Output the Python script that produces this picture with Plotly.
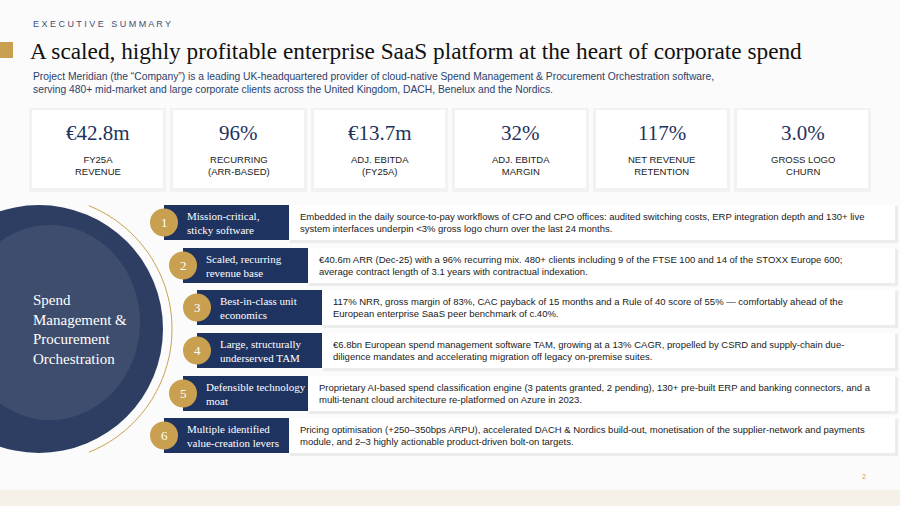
import math
import plotly.graph_objects as go

# KPI cards
kpi_values = ["€42.8m", "96%", "€13.7m", "32%", "117%", "3.0%"]
kpi_labels = ["FY25A<br>REVENUE", "RECURRING<br>(ARR-BASED)", "ADJ. EBITDA<br>(FY25A)",
              "ADJ. EBITDA<br>MARGIN", "NET REVENUE<br>RETENTION", "GROSS LOGO<br>CHURN"]

# investment pillars
pillar_nums = ["1", "2", "3", "4", "5", "6"]
pillar_titles = ["Mission-critical,<br>sticky software", "Scaled, recurring<br>revenue base",
                 "Best-in-class unit<br>economics", "Large, structurally<br>underserved TAM",
                 "Defensible technology<br>moat", "Multiple identified<br>value-creation levers"]
pillar_texts = [
    "Embedded in the daily source-to-pay workflows of CFO and CPO offices: audited switching costs, ERP integration depth and 130+ live<br>system interfaces underpin <3% gross logo churn over the last 24 months.",
    "€40.6m ARR (Dec-25) with a 96% recurring mix. 480+ clients including 9 of the FTSE 100 and 14 of the STOXX Europe 600;<br>average contract length of 3.1 years with contractual indexation.",
    "117% NRR, gross margin of 83%, CAC payback of 15 months and a Rule of 40 score of 55% — comfortably ahead of the<br>European enterprise SaaS peer benchmark of c.40%.",
    "€6.8bn European spend management software TAM, growing at a 13% CAGR, propelled by CSRD and supply-chain due-<br>diligence mandates and accelerating migration off legacy on-premise suites.",
    "Proprietary AI-based spend classification engine (3 patents granted, 2 pending), 130+ pre-built ERP and banking connectors, and a<br>multi-tenant cloud architecture re-platformed on Azure in 2023.",
    "Pricing optimisation (+250–350bps ARPU), accelerated DACH & Nordics build-out, monetisation of the supplier-network and payments<br>module, and 2–3 highly actionable product-driven bolt-on targets.",
]

NAVY = "#1f3360"
GOLD = "#c9a050"
SERIF = "Liberation Serif"
SANS = "Liberation Sans"

fig = go.Figure()
shapes = []
ann = []

# bottom beige strip
shapes.append(dict(type="rect", x0=0, x1=900, y0=490, y1=506, fillcolor="#f6f1e6", line_width=0, layer="below"))

# header
shapes.append(dict(type="rect", x0=0, x1=13, y0=42, y1=58, fillcolor=GOLD, line_width=0))
ann.append(dict(x=31, y=24, text="E X E C U T I V E   S U M M A R Y", xanchor="left", yanchor="middle",
                font=dict(family=SANS, size=9, color="#3c4f78")))
ann.append(dict(x=28, y=51, text="A scaled, highly profitable enterprise SaaS platform at the heart of corporate spend",
                xanchor="left", yanchor="middle", font=dict(family=SERIF, size=23.3, color="#111111")))
ann.append(dict(x=31, y=83, align="left", xanchor="left", yanchor="middle",
                text="Project Meridian (the “Company”) is a leading UK-headquartered provider of cloud-native Spend Management & Procurement Orchestration software,<br>serving 480+ mid-market and large corporate clients across the United Kingdom, DACH, Benelux and the Nordics.",
                font=dict(family=SANS, size=10.3, color="#2b3f6b")))

# KPI cards
for i, (v, lab) in enumerate(zip(kpi_values, kpi_labels)):
    x0 = 32 + i * 141
    shapes.append(dict(type="rect", x0=x0 - 3, x1=x0 + 134, y0=108, y1=192, fillcolor="rgba(0,0,0,0.035)", line_width=0))
    shapes.append(dict(type="rect", x0=x0, x1=x0 + 131, y0=110, y1=188, fillcolor="white", line_width=0))
    ann.append(dict(x=x0 + 65.5, y=133, text=v, xanchor="center", yanchor="middle",
                    font=dict(family=SERIF, size=21, color=NAVY)))
    ann.append(dict(x=x0 + 65.5, y=165, text=lab, xanchor="center", yanchor="middle",
                    font=dict(family=SANS, size=9.5, color="#222222")))

# left circle image area, gold arc only on the right side
cx, cy, r = 39, 329, 133
pts = [(cx + r * math.cos(math.radians(a)), cy + r * math.sin(math.radians(a))) for a in range(-68, 69, 2)]
arc = "M " + " L ".join(f"{x:.1f},{y:.1f}" for x, y in pts)
shapes.append(dict(type="path", path=arc, line=dict(color=GOLD, width=1)))
shapes.append(dict(type="circle", x0=-85, x1=163, y0=205, y1=453, line_width=0, fillcolor="#2e3e62"))
shapes.append(dict(type="circle", x0=-40, x1=140, y0=225, y1=420, line_width=0, fillcolor="rgba(110,122,145,0.25)"))
ann.append(dict(x=31, y=329, text="Spend<br>Management &<br>Procurement<br>Orchestration", align="left",
                xanchor="left", yanchor="middle", font=dict(family=SERIF, size=15, color="white")))

# pillar rows
row_tops = [205, 248, 290, 333, 376, 418]
row_x = [164, 183, 197, 197, 183, 164]
for n, t, body, y0, x0 in zip(pillar_nums, pillar_titles, pillar_texts, row_tops, row_x):
    y1 = y0 + 35
    shapes.append(dict(type="rect", x0=x0 + 126, x1=898, y0=y0 + 1, y1=y1 + 3, fillcolor="rgba(0,0,0,0.06)", line_width=0))
    shapes.append(dict(type="rect", x0=x0 + 125, x1=895, y0=y0, y1=y1, fillcolor="white", line_width=0))
    shapes.append(dict(type="rect", x0=x0, x1=x0 + 125, y0=y0, y1=y1, fillcolor=NAVY, line_width=0))
    shapes.append(dict(type="circle", x0=x0 - 14, x1=x0 + 14, y0=y0 + 3.5, y1=y0 + 31.5, fillcolor=GOLD, line_width=0))
    ann.append(dict(x=x0, y=(y0 + y1) / 2, text=n, xanchor="center", yanchor="middle",
                    font=dict(family=SERIF, size=13, color="white")))
    ann.append(dict(x=x0 + 21, y=(y0 + y1) / 2, text=t, align="left", xanchor="left", yanchor="middle",
                    font=dict(family=SERIF, size=11, color="white")))
    ann.append(dict(x=x0 + 134, y=(y0 + y1) / 2, text=body, align="left", xanchor="left", yanchor="middle",
                    font=dict(family=SANS, size=9.5, color="#1a1a1a")))

ann.append(dict(x=864, y=476, text="2", xanchor="center", yanchor="middle", font=dict(family=SANS, size=7, color=GOLD)))

for a in ann:
    a.update(xref="x", yref="y", showarrow=False)
for s in shapes:
    s.update(xref="x", yref="y")

fig.update_layout(width=900, height=506, margin=dict(l=0, r=0, t=0, b=0),
                  plot_bgcolor="#fbfbfb", paper_bgcolor="#fbfbfb",
                  shapes=shapes, annotations=ann, showlegend=False)
fig.update_xaxes(range=[0, 900], visible=False, fixedrange=True)
fig.update_yaxes(range=[506, 0], visible=False, fixedrange=True)
fig.write_html("out.html", config={"displayModeBar": False},
               post_script="document.body.style.margin='0';document.body.style.overflow='hidden';")
